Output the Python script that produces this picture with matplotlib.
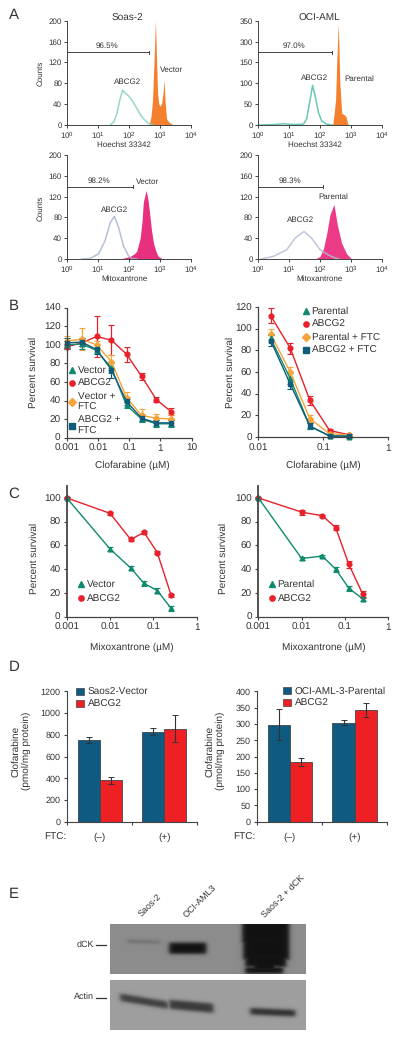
import numpy as np
import matplotlib
matplotlib.use("Agg")
import matplotlib.pyplot as plt
from matplotlib.lines import Line2D
from matplotlib.patches import Patch

plt.rcParams['font.family'] = ['Liberation Sans', 'DejaVu Sans']
plt.rcParams['mathtext.default'] = 'regular'
plt.rcParams['text.hinting'] = 'no_hinting'
plt.rcParams['text.hinting_factor'] = 1
plt.rcParams['text.color'] = '#333333'
plt.rcParams['axes.edgecolor'] = '#444444'
plt.rcParams['xtick.color'] = '#444444'
plt.rcParams['ytick.color'] = '#444444'
plt.rcParams['xtick.labelcolor'] = '#333333'
plt.rcParams['ytick.labelcolor'] = '#333333'

W, H = 400, 1040

# A: histograms, (intensity, counts)
soas_hoechst_vec_x = [440, 470, 520, 580, 640, 724, 790, 850, 930, 1030, 1150, 1270, 1380, 1490, 1650, 2000, 2800]
soas_hoechst_vec_y = [0, 4, 16, 45, 110, 200, 120, 60, 40, 36, 42, 60, 87, 45, 12, 5, 0]
soas_hoechst_abc_x = [25, 33, 41, 52, 63, 80, 98, 141, 190, 232, 320, 430, 600]
soas_hoechst_abc_y = [0, 6, 22, 50, 67, 60, 56, 43, 30, 20, 10, 3, 0]
soas_mito_vec_x = [25, 60, 110, 150, 180, 232, 265, 295, 363, 420, 466, 540, 630, 780, 900, 1260]
soas_mito_vec_y = [0, 1, 5, 10, 15, 40, 70, 110, 132, 112, 90, 55, 30, 12, 5, 0]
soas_mito_abc_x = [3, 5.6, 10.5, 17, 25, 34, 47, 67, 98, 126, 180]
soas_mito_abc_y = [0, 1, 10, 35, 70, 82, 60, 25, 6, 1, 0]
oci_hoechst_par_x = [263, 290, 325, 355, 398, 447, 513, 603, 708, 794, 930]
oci_hoechst_par_y = [0, 25, 60, 150, 244, 100, 28, 25, 20, 3, 0]
oci_hoechst_abc_x = [1, 3, 6.8, 14, 30, 38, 49, 59, 71, 91, 115, 170, 260]
oci_hoechst_abc_y = [0, 1, 3, 1, 2, 15, 60, 95, 70, 30, 10, 2, 0]
oci_mito_par_x = [71, 102, 132, 170, 214, 288, 372, 513, 741, 1070]
oci_mito_par_y = [0, 5, 20, 50, 85, 105, 65, 30, 10, 0]
oci_mito_abc_x = [1.3, 3.2, 8.7, 16, 31, 55, 102, 190, 310, 420]
oci_mito_abc_y = [0, 5, 18, 40, 53, 40, 18, 8, 2, 0]
gate_ends = [455, 132, 257, 132]
gate_labels = ['96.5%', '98.2%', '97.0%', '98.3%']
count_ticks = [0, 40, 80, 120, 160, 200]
oci_ticks = [0, 50, 100, 150, 200, 250]
oci_tick_labels = ['0', '50', '100', '150', '300', '350']

# B
b1_dose = [0.001, 0.003, 0.009, 0.027, 0.082, 0.25, 0.74, 2.2]
b1_vector = [100, 101, 94, 75, 35, 20, 15, 15]
b1_abcg2 = [98, 102, 109, 105, 90, 66, 41, 28]
b1_vector_ftc = [104, 106, 100, 82, 43, 24, 21, 20]
b1_abcg2_ftc = [102, 103, 95, 73, 39, 21, 16, 16]
b1_vector_err = [4, 6, 3, 5, 3, 3, 4, 4]
b1_abcg2_err = [3, 3, 22, 16, 8, 4, 3, 4]
b1_vector_ftc_err = [6, 12, 4, 7, 6, 7, 5, 4]
b1_abcg2_ftc_err = [5, 4, 5, 9, 4, 3, 3, 3]

b2_dose = [0.0155, 0.031, 0.062, 0.125, 0.25]
b2_parental = [91, 54, 10, 1, 0]
b2_abcg2 = [112, 82, 34, 6, 2]
b2_parental_ftc = [95, 60, 17, 3, 2]
b2_abcg2_ftc = [89, 49, 10, 1, 1]
b2_parental_err = [3, 5, 3, 1, 1]
b2_abcg2_err = [7, 5, 4, 1, 1]
b2_parental_ftc_err = [5, 5, 3, 1, 1]
b2_abcg2_ftc_err = [5, 5, 3, 1, 1]

# C
c_dose = [0.001, 0.01, 0.03, 0.061, 0.123, 0.257]
c1_vector = [100, 57, 41, 28, 22, 7]
c1_abcg2 = [100, 87, 65, 71, 54, 18]
c2_parental = [100, 49, 51, 40, 24, 15]
c2_abcg2 = [100, 88, 85, 75, 44, 19]
c1_vector_err = [1, 2, 2, 2, 2, 2]
c1_abcg2_err = [1, 1, 1, 1, 1, 1]
c2_parental_err = [1, 1, 1, 2, 2, 2]
c2_abcg2_err = [1, 2, 1, 2, 3, 3]

# D
d_groups = ['(–)', '(+)']
d1_vector = [750, 830]
d1_abcg2 = [380, 855]
d1_vector_err = [25, 30]
d1_abcg2_err = [30, 125]
d2_parental = [298, 304]
d2_abcg2 = [182, 342]
d2_parental_err = [47, 8]
d2_abcg2_err = [12, 22]

GREEN = '#0f8a6e'
RED = '#e8202a'
ORANGE = '#f5a33a'
NAVY = '#0f5d7a'
BAR_BLUE = '#0f5a80'
BAR_RED = '#ee2024'

fig = plt.figure(figsize=(W / 100, H / 100), dpi=100)


def px_ax(l, t, r, b):
    ax = fig.add_axes([l / W, 1 - b / H, (r - l) / W, (b - t) / H])
    ax.spines[['top', 'right']].set_visible(False)
    ax.patch.set_alpha(0)
    return ax


def ptxt(x, y, s, size=5.9, **kw):
    kw.setdefault('ha', 'center')
    kw.setdefault('va', 'center')
    fig.text(x / W, 1 - y / H, s, fontsize=size, **kw)


def hist_panel(box, fill_x, fill_y, line_x, line_y, fill_col, line_col, gate, yticks, ylabels):
    ax = px_ax(*box)
    ax.fill_between(fill_x, fill_y, color=fill_col, lw=0)
    ax.plot(line_x, line_y, color=line_col, lw=1.1, alpha=0.85)
    ax.set_xscale('log')
    ax.set_xlim(1, 1e4)
    ax.set_ylim(yticks[0], yticks[-1])
    ax.set_xticks([1, 10, 100, 1000, 10000])
    ax.set_xticklabels(['$10^{%d}$' % i for i in range(5)])
    ax.minorticks_off()
    ax.set_yticks(yticks)
    ax.set_yticklabels(ylabels)
    ax.tick_params(labelsize=5.7, length=2, width=0.7, pad=1.5)
    gy = yticks[-1] * 0.697
    ax.plot([1, gate], [gy, gy], color='#444444', lw=0.7, clip_on=False)
    ax.plot([gate, gate], [gy - yticks[-1] * 0.015, gy + yticks[-1] * 0.015], color='#444444', lw=0.7)
    for s in ax.spines.values():
        s.set_linewidth(0.7)
    return ax


hist_panel((67, 20.7, 190.7, 125), soas_hoechst_vec_x, soas_hoechst_vec_y, soas_hoechst_abc_x, soas_hoechst_abc_y,
           '#f47f2c', '#86d0c0', gate_ends[0], count_ticks, count_ticks)
hist_panel((67, 155, 190.7, 259), soas_mito_vec_x, soas_mito_vec_y, soas_mito_abc_x, soas_mito_abc_y,
           '#e8307f', '#aab4d2', gate_ends[1], count_ticks, count_ticks)
hist_panel((257.7, 20.7, 381.7, 125), oci_hoechst_par_x, oci_hoechst_par_y, oci_hoechst_abc_x, oci_hoechst_abc_y,
           '#f47f2c', '#52bfa8', gate_ends[2], oci_ticks, oci_tick_labels)
hist_panel((257.7, 155, 381.7, 259), oci_mito_par_x, oci_mito_par_y, oci_mito_abc_x, oci_mito_abc_y,
           '#ec3a86', '#b4bcd6', gate_ends[3], count_ticks, count_ticks)

ptxt(127, 18, 'Soas-2', 7)
ptxt(319, 18, 'OCI-AML', 7)
ptxt(124, 145, 'Hoechst 33342', 5.5)
ptxt(315, 145, 'Hoechst 33342', 5.5)
ptxt(124, 279, 'Mitoxantrone', 5.5)
ptxt(319, 279, 'Mitoxantrone', 5.5)
ptxt(40, 73, 'Counts', rotation=90)
ptxt(40, 208, 'Counts', rotation=90)
ptxt(107, 46, gate_labels[0])
ptxt(99, 181, gate_labels[1])
ptxt(294, 46, gate_labels[2])
ptxt(290, 181, gate_labels[3])
ptxt(128, 82, 'ABCG2')
ptxt(172, 70, 'Vector')
ptxt(115, 210, 'ABCG2')
ptxt(148, 182, 'Vector')
ptxt(315, 78, 'ABCG2')
ptxt(359, 79, 'Parental')
ptxt(301, 220, 'ABCG2')
ptxt(333, 197, 'Parental')


def curve(ax, x, y, err, col, marker, ms=3.4):
    ax.errorbar(x, y, yerr=err, color=col, marker=marker, ms=ms, lw=1.0, elinewidth=0.9, capsize=2,
                capthick=0.8, clip_on=False)


def curve_axes(box, ymax, yticks, xticks, xlabels, ylim_top=None):
    ax = px_ax(*box)
    ax.set_xscale('log')
    ax.set_xlim(xticks[0], xticks[-1])
    ax.set_ylim(0, ylim_top or ymax)
    ax.set_xticks(xticks)
    ax.set_xticklabels(xlabels)
    ax.minorticks_off()
    ax.set_yticks(yticks)
    ax.tick_params(labelsize=7.0, length=2.5, width=0.8, pad=2)
    for s in ax.spines.values():
        s.set_linewidth(0.9)
    return ax


def marker_legend(ax, x, y, labels, cols, markers, spacing=0.55, size=7.2):
    handles = [Line2D([], [], ls='none', marker=m, color=c, ms=3.8) for m, c in zip(markers, cols)]
    ax.legend(handles, labels, loc='upper left', bbox_to_anchor=(x / W, 1 - y / H), bbox_transform=fig.transFigure,
              frameon=False, borderaxespad=0, borderpad=0, labelspacing=spacing, handlelength=1.0,
              handletextpad=0.05, fontsize=size, labelcolor='#333333')


# B
ax = curve_axes((66.7, 307.7, 191.7, 437.7), 140, range(0, 141, 20), [0.001, 0.01, 0.1, 1, 10],
                ['0.001', '0.01', '0.1', '1', '10'])
curve(ax, b1_dose, b1_abcg2, b1_abcg2_err, RED, 'o')
curve(ax, b1_dose, b1_vector_ftc, b1_vector_ftc_err, ORANGE, 'D', 3)
curve(ax, b1_dose, b1_vector, b1_vector_err, GREEN, '^')
curve(ax, b1_dose, b1_abcg2_ftc, b1_abcg2_ftc_err, NAVY, 's', 3)
marker_legend(ax, 67, 366, ['Vector', 'ABCG2', 'Vector +\nFTC', 'ABCG2 +\nFTC'], [GREEN, RED, ORANGE, NAVY],
              ['^', 'o', 'D', 's'], spacing=0.36)

ax = curve_axes((258.3, 307, 388.3, 437), 120, range(0, 121, 20), [0.01, 0.1, 1], ['0.01', '0.1', '1'])
curve(ax, b2_dose, b2_abcg2, b2_abcg2_err, RED, 'o')
curve(ax, b2_dose, b2_parental_ftc, b2_parental_ftc_err, ORANGE, 'D', 3)
curve(ax, b2_dose, b2_parental, b2_parental_err, GREEN, '^')
curve(ax, b2_dose, b2_abcg2_ftc, b2_abcg2_ftc_err, NAVY, 's', 3)
marker_legend(ax, 301, 307, ['Parental', 'ABCG2', 'Parental + FTC', 'ABCG2 + FTC'], [GREEN, RED, ORANGE, NAVY],
              ['^', 'o', 'D', 's'], spacing=0.36)

for lx, ly in [(33, 372), (230, 372), (34, 558), (223, 558)]:
    ptxt(lx, ly, 'Percent survival', 7.2, rotation=90)
ptxt(132, 465, 'Clofarabine (µM)', 7.2)
ptxt(323, 465, 'Clofarabine (µM)', 7.2)
ptxt(132, 647, 'Mixoxantrone (µM)', 7.2)
ptxt(324, 647, 'Mixoxantrone (µM)', 7.2)

# C
ax = curve_axes((66.7, 486, 196.7, 616.7), 100, range(0, 101, 20), [0.001, 0.01, 0.1, 1],
                ['0.001', '0.01', '0.1', '1'], ylim_top=110)
ax.spines['left'].set_linewidth(1.3)
curve(ax, c_dose, c1_abcg2, c1_abcg2_err, RED, 'o')
curve(ax, c_dose, c1_vector, c1_vector_err, GREEN, '^')
marker_legend(ax, 76, 580, ['Vector', 'ABCG2'], [GREEN, RED], ['^', 'o'], spacing=0.5)

ax = curve_axes((258.3, 486, 388.3, 616.7), 100, range(0, 101, 20), [0.001, 0.01, 0.1, 1],
                ['0.001', '0.01', '0.1', '1'], ylim_top=110)
ax.spines['left'].set_linewidth(1.3)
curve(ax, c_dose, c2_abcg2, c2_abcg2_err, RED, 'o')
curve(ax, c_dose, c2_parental, c2_parental_err, GREEN, '^')
marker_legend(ax, 267, 580, ['Parental', 'ABCG2'], [GREEN, RED], ['^', 'o'], spacing=0.5)


def bar_panel(box, v1, v2, e1, e2, ymax, yticks, labels, lx, ly):
    ax = px_ax(*box)
    pos = np.array([0.507, 1.5])
    w = 0.34
    ekw = dict(ecolor='#333333', elinewidth=0.8, capsize=2.2, capthick=0.7)
    ax.bar(pos - w / 2, v1, w, color=BAR_BLUE, edgecolor='#444444', lw=0.6, yerr=e1, error_kw=ekw)
    ax.bar(pos + w / 2, v2, w, color=BAR_RED, edgecolor='#444444', lw=0.6, yerr=e2, error_kw=ekw)
    ax.set_xlim(0, 2)
    ax.set_ylim(0, ymax)
    ax.set_yticks(yticks)
    ax.set_xticks([0, 1, 2])
    ax.set_xticklabels([])
    ax.tick_params(labelsize=6.8, length=2.5, width=0.8, pad=2)
    for p, g in zip(pos, d_groups):
        ax.annotate(g, (p, 0), xytext=(0, -11.5), textcoords='offset points', ha='center', va='center', fontsize=7.0)
    handles = [Patch(facecolor=BAR_BLUE, edgecolor='#444444', lw=0.5), Patch(facecolor=BAR_RED, edgecolor='#444444', lw=0.5)]
    ax.legend(handles, labels, loc='upper left', bbox_to_anchor=(lx / W, 1 - ly / H), bbox_transform=fig.transFigure,
              frameon=False, borderaxespad=0, borderpad=0, labelspacing=0.25, handlelength=0.8, handleheight=0.75,
              handletextpad=0.35, fontsize=7.2, labelcolor='#333333')
    return ax


bar_panel((66.7, 691.3, 196.7, 821.7), d1_vector, d1_abcg2, d1_vector_err, d1_abcg2_err, 1200, range(0, 1201, 200),
          ['Saos2-Vector', 'ABCG2'], 76, 688)
bar_panel((256.7, 691.3, 387.3, 821.7), d2_parental, d2_abcg2, d2_parental_err, d2_abcg2_err, 400, range(0, 401, 50),
          ['OCI-AML-3-Parental', 'ABCG2'], 283, 687)
ptxt(21, 751, 'Clofarabine\n(pmol/mg protein)', 7.0, rotation=90, linespacing=1.1)
ptxt(215, 751, 'Clofarabine\n(pmol/mg protein)', 7.0, rotation=90, linespacing=1.1)
ptxt(55, 837, 'FTC:', 7.0)
ptxt(244, 837, 'FTC:', 7.0)


# E: western blots, shaded from the band shapes
def soft(u, half, edge):
    return 1 / (1 + np.exp((np.abs(u) - half) / edge))


def blot(box, bands, bg):
    l, t, r, b = box
    ax = fig.add_axes([l / W, 1 - b / H, (r - l) / W, (b - t) / H])
    ax.axis('off')
    xx, yy = np.meshgrid(np.arange(l, r, 0.5), np.arange(t, b, 0.5))
    dark = np.zeros_like(xx)
    for x0, y0, x1, y1, hh, depth in bands:
        cx = (x0 + x1) / 2
        hw = (x1 - x0) / 2
        yc = y0 + (y1 - y0) * (xx - x0) / (x1 - x0)
        band = soft(xx - cx, hw, 1.3) * soft(yy - yc, hh, 1.0) * depth
        dark = np.maximum(dark, band)
    img = bg * (1 - dark) + 0.07 * dark
    ax.imshow(img, cmap='gray', vmin=0, vmax=1, aspect='auto', interpolation='bilinear')


# x0, y0, x1, y1, half height, darkness
dck_bands = [(127, 941, 160, 942, 1.6, 0.22), (169, 948, 206, 948, 5.5, 1.0),
             (242, 932, 289, 932, 12, 1.0), (243, 948, 289, 948, 12, 1.0), (245, 960, 286, 960, 7, 1.0),
             (252, 965, 276, 965, 6, 1.0), (245, 970, 283, 970, 3.5, 1.0)]
actin_bands = [(120, 997, 168, 1005, 3.6, 0.68), (169, 1004, 213, 1008, 4.5, 0.72), (250, 1011, 295, 1013, 3.2, 0.8)]
blot((110, 924, 306, 974), dck_bands, 0.55)
blot((110, 980, 306, 1030), actin_bands, 0.62)

ptxt(150, 905, 'Saos-2', 6.8, rotation=45)
ptxt(200, 901, 'OCI-AML3', 6.8, rotation=45)
ptxt(283, 896, 'Saos-2 + dCK', 6.8, rotation=45)
ptxt(94, 945, 'dCK', 6.8, ha='right')
ptxt(94, 997, 'Actin', 6.8, ha='right')
for ty in [945, 997.5]:
    fig.add_artist(Line2D([96 / W, 106 / W], [1 - ty / H, 1 - ty / H], color='#333333', lw=0.9))

for letter, ly in zip('ABCDE', [15, 306, 494, 667, 894]):
    ptxt(14, ly, letter, 10.5)

fig.savefig('out.png', dpi=100)
